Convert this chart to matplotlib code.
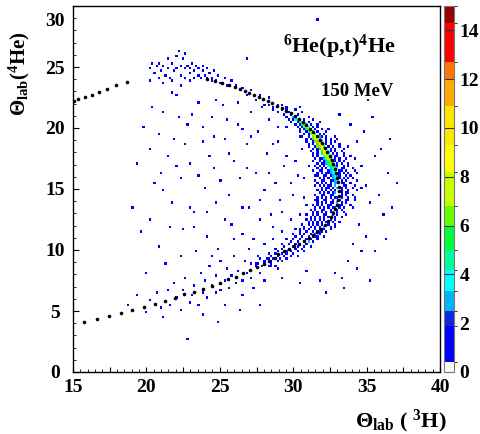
import numpy as np
import matplotlib
matplotlib.use("Agg")
import matplotlib.pyplot as plt
from matplotlib.colors import ListedColormap, BoundaryNorm
from matplotlib.ticker import MultipleLocator, FuncFormatter
from matplotlib.transforms import ScaledTranslation

plt.rcParams['font.family'] = 'Liberation Serif'
plt.rcParams['font.weight'] = 'bold'
plt.rcParams['mathtext.fontset'] = 'custom'
plt.rcParams['mathtext.rm'] = 'Liberation Serif:bold'
plt.rcParams['mathtext.bf'] = 'Liberation Serif:bold'
plt.rcParams['mathtext.it'] = 'Liberation Serif:bold'

# Kinematic locus (theta_t, theta_alpha), lab frame
curve_x = [15.05, 15.35, 15.82, 16.27, 16.77, 17.30, 17.93, 18.68,
           24.10, 24.65, 25.17, 25.60, 26.04, 26.38, 26.72, 27.01, 27.35, 27.65,
           27.96, 28.26, 28.58, 28.90, 29.22, 29.52, 29.82, 30.10, 30.38, 30.65,
           30.90, 31.15, 31.38, 31.60, 31.80, 31.99, 32.17, 32.33, 32.48, 32.61,
           32.73, 32.84, 32.93, 33.01, 33.07, 33.11, 33.12, 33.10, 33.05, 32.97,
           32.86, 32.72, 32.55, 32.36, 32.14, 31.90, 31.64, 31.36, 31.06, 30.75,
           30.42, 30.08, 29.72, 29.35, 28.97, 28.78, 28.37, 27.99, 27.55, 27.06,
           26.60, 26.10, 25.58, 25.03, 24.47, 23.84, 23.26, 22.58, 21.95, 21.27,
           20.59, 19.84, 19.04, 18.27, 17.47, 16.66, 15.77]
curve_y = [22.20, 22.35, 22.54, 22.70, 22.93, 23.22, 23.52, 23.80,
           24.00, 23.88, 23.72, 23.52, 23.34, 23.17, 23.00, 22.84, 22.68, 22.53,
           22.38, 22.22, 22.04, 21.84, 21.64, 21.43, 21.21, 20.98, 20.74, 20.48,
           20.22, 19.95, 19.66, 19.36, 19.05, 18.73, 18.40, 18.06, 17.72, 17.37,
           17.02, 16.66, 16.30, 15.93, 15.56, 15.19, 14.82, 14.45, 14.08, 13.72,
           13.36, 13.01, 12.67, 12.35, 12.04, 11.75, 11.47, 11.20, 10.95, 10.72,
           10.50, 10.29, 10.09, 9.90, 9.70, 9.37, 9.07, 8.85, 8.58, 8.34,
           8.09, 7.81, 7.60, 7.32, 7.07, 6.83, 6.58, 6.39, 6.09, 5.84,
           5.60, 5.33, 5.08, 4.86, 4.59, 4.37, 4.12]

# High-count cells along the (p,t) ridge: position and counts
ridge_x = [29.95, 30.1, 30.2, 30.35, 30.4, 30.55, 30.6, 30.75, 30.85,
           30.75, 30.9, 31.0, 30.9, 31.05, 31.2, 31.05, 31.2, 31.35,
           31.2, 31.35, 31.45, 31.3, 31.45, 31.6, 31.75, 31.4, 31.55, 31.7, 31.85,
           31.5, 31.65, 31.8, 31.95, 31.6, 31.75, 31.9, 32.05, 31.7, 31.85, 32.0, 32.15,
           31.8, 31.95, 32.1, 32.25, 31.9, 32.05, 32.2, 32.35, 31.95, 32.1, 32.25, 32.4,
           32.05, 32.2, 32.35, 32.5, 32.1, 32.25, 32.4, 32.55, 32.2, 32.35, 32.5, 32.65,
           32.3, 32.45, 32.6, 32.75, 32.4, 32.55, 32.7, 32.85, 32.5, 32.65, 32.8, 32.95,
           32.55, 32.7, 32.85, 32.6, 32.75, 32.9, 33.05, 32.7, 32.85, 33.0,
           32.75, 32.9, 33.05, 32.8, 32.95, 32.85, 33.0, 32.9, 32.95, 32.9,
           33.0, 32.95, 32.85, 32.7, 32.55, 32.35, 32.1, 31.8, 31.45, 31.0]
ridge_y = [20.9, 20.9, 20.7, 20.7, 20.5, 20.5, 20.3, 20.3, 20.3,
           20.1, 20.1, 20.1, 19.9, 19.9, 19.9, 19.7, 19.7, 19.7,
           19.5, 19.5, 19.5, 19.3, 19.3, 19.3, 19.3, 19.1, 19.1, 19.1, 19.1,
           18.9, 18.9, 18.9, 18.9, 18.7, 18.7, 18.7, 18.7, 18.5, 18.5, 18.5, 18.5,
           18.3, 18.3, 18.3, 18.3, 18.1, 18.1, 18.1, 18.1, 17.9, 17.9, 17.9, 17.9,
           17.7, 17.7, 17.7, 17.7, 17.5, 17.5, 17.5, 17.5, 17.3, 17.3, 17.3, 17.3,
           17.1, 17.1, 17.1, 17.1, 16.9, 16.9, 16.9, 16.9, 16.7, 16.7, 16.7, 16.7,
           16.5, 16.5, 16.5, 16.3, 16.3, 16.3, 16.3, 16.1, 16.1, 16.1,
           15.9, 15.9, 15.9, 15.7, 15.7, 15.5, 15.5, 15.3, 15.1, 14.7,
           14.3, 13.9, 13.5, 13.1, 12.7, 12.3, 11.9, 11.5, 11.1, 10.7]
ridge_n = [3, 4, 4, 5, 4, 6, 5, 6, 3,
           4, 7, 4, 5, 7, 4, 5, 8, 5,
           6, 9, 5, 6, 9, 6, 3, 5, 10, 7, 3,
           6, 11, 8, 4, 5, 10, 9, 4, 6, 11, 9, 5,
           5, 10, 9, 4, 5, 9, 8, 4, 4, 8, 8, 4,
           4, 7, 7, 3, 3, 6, 7, 3, 3, 6, 6, 3,
           3, 5, 6, 3, 3, 5, 5, 3, 3, 4, 5, 3,
           3, 4, 4, 3, 4, 4, 3, 3, 4, 3,
           3, 4, 3, 3, 4, 3, 3, 3, 3, 3,
           2, 3, 2, 2, 3, 2, 2, 2, 2, 2]

# Single events around the ridge (two interleaved sets of rows)
halo_x = [28.3, 28.9, 29.3,
          28.7, 29.2, 29.6, 30.1,
          29.4, 29.9, 30.3,
          29.7, 30.0, 30.7, 31.3,
          30.2, 30.5, 31.2, 31.6,
          30.5, 30.8, 31.5, 31.9, 32.4,
          30.7, 31.0, 31.8, 32.1,
          30.9, 31.2, 32.2, 32.5, 33.0,
          31.1, 31.4, 32.3, 32.6, 33.2,
          31.3, 31.6, 32.55, 32.8, 33.4,
          31.4, 31.7, 31.9, 32.7, 33.0, 33.5,
          31.5, 31.8, 32.0, 32.85, 33.1, 33.6, 34.2,
          31.6, 31.9, 32.15, 32.95, 33.3, 33.7,
          31.7, 32.0, 32.3, 33.0, 33.25, 33.5, 34.0,
          31.6, 31.9, 32.2, 32.4, 33.15, 33.4, 33.8, 34.4,
          31.8, 32.1, 32.35, 33.2, 33.45, 33.7, 34.1,
          31.7, 32.0, 32.3, 32.55, 33.25, 33.5, 33.9,
          31.9, 32.2, 32.45, 32.7, 33.3, 33.6, 34.0, 34.6,
          31.8, 32.1, 32.4, 32.65, 33.3, 33.55, 33.8,
          31.7, 32.0, 32.3, 32.6, 32.85, 33.35, 33.7, 34.2,
          31.6, 31.9, 32.2, 32.5, 32.75, 33.3, 33.6,
          31.5, 31.8, 32.1, 32.4, 32.65, 33.2, 33.5, 34.0,
          31.3, 31.7, 32.0, 32.3, 32.5, 33.0, 33.4,
          31.2, 31.5, 31.85, 32.15, 32.4, 32.85, 33.3,
          31.0, 31.4, 31.7, 32.0, 32.3, 32.7, 33.1,
          30.8, 31.2, 31.5, 31.8, 32.1, 32.5, 32.9,
          30.5, 30.9, 31.3, 31.6, 31.9, 32.3,
          30.2, 30.6, 31.0, 31.3, 31.7, 32.1,
          29.8, 30.3, 30.7, 31.0, 31.4,
          29.4, 30.0, 30.3, 30.7, 31.2,
          29.0, 29.6, 29.9, 30.3, 30.8,
          28.5, 29.0, 29.4, 29.8, 30.3,
          28.0, 28.5, 28.9, 29.3,
          27.4, 27.9, 28.3, 28.8]
halo_y = [21.9] * 3 + [21.5] * 4 + [21.1] * 3 + [20.7] * 4 + [20.3] * 4 + \
         [19.9] * 5 + [19.5] * 4 + [19.1] * 5 + [18.7] * 5 + [18.3] * 5 + \
         [17.9] * 6 + [17.5] * 7 + [17.1] * 6 + [16.7] * 7 + [16.3] * 8 + \
         [15.9] * 7 + [15.5] * 7 + [15.1] * 8 + [14.7] * 7 + [14.3] * 8 + \
         [13.9] * 7 + [13.5] * 8 + [13.1] * 7 + [12.7] * 7 + [12.3] * 7 + \
         [11.9] * 7 + [11.5] * 6 + [11.1] * 6 + [10.7] * 5 + [10.3] * 5 + \
         [9.9] * 5 + [9.5] * 5 + [9.1] * 4 + [8.7] * 4

halo2_x = [28.6, 29.5, 30.4,
           29.0, 29.7, 30.6,
           29.5, 30.2, 31.0,
           29.9, 30.3, 31.0, 31.8,
           30.3, 30.6, 31.4, 31.7,
           30.4, 30.9, 31.7, 32.2,
           30.6, 31.1, 32.0, 32.3, 32.8,
           30.9, 31.3, 32.2, 32.5, 32.9,
           31.0, 31.5, 32.4, 32.7, 33.1, 33.7,
           31.2, 31.6, 32.6, 32.9, 33.3,
           31.3, 31.6, 32.8, 33.0, 33.4, 33.9,
           31.4, 31.8, 32.1, 32.9, 33.2, 33.5,
           31.45, 31.85, 32.05, 32.4, 33.05, 33.45, 33.75,
           31.35, 31.75, 31.95, 32.35, 33.15, 33.3, 33.65, 34.15,
           31.55, 31.65, 32.05, 32.2, 32.55, 33.15, 33.55, 33.85,
           31.55, 31.95, 32.15, 32.5, 32.65, 33.35, 33.55, 34.35,
           31.45, 31.85, 32.05, 32.4, 32.55, 33.45, 33.65, 34.15,
           31.65, 31.9, 32.3, 32.5, 32.85, 33.35, 33.75, 34.35,
           31.45, 31.9, 32.1, 32.5, 32.7, 33.35, 33.55, 34.0,
           31.45, 31.7, 32.1, 32.3, 32.7, 33.2, 33.55, 33.8,
           31.3, 31.7, 31.95, 32.35, 32.55, 33.15, 33.35, 33.85,
           31.25, 31.45, 31.9, 32.15, 32.5, 33.0, 33.35,
           30.95, 31.4, 31.6, 32.05, 32.25, 32.7, 33.05, 33.55,
           30.85, 31.2, 31.55, 31.85, 32.15, 32.55, 32.9,
           30.6, 31.0, 31.35, 31.65, 31.95, 32.35, 32.8,
           30.4, 30.75, 31.1, 31.45, 31.75, 32.1, 32.6,
           30.0, 30.4, 30.8, 31.15, 31.5, 31.85,
           29.6, 30.0, 30.5, 30.85, 31.2, 31.7,
           29.2, 29.7, 30.15, 30.5, 30.9,
           28.8, 29.3, 29.7, 30.1, 30.6,
           28.3, 28.8, 29.2, 29.6, 30.0,
           27.8, 28.3, 28.7, 29.1, 29.6,
           27.2, 27.6, 28.1, 28.5]
halo2_y = [21.7] * 3 + [21.3] * 3 + [20.9] * 3 + [20.5] * 4 + [20.1] * 4 + \
          [19.7] * 4 + [19.3] * 5 + [18.9] * 5 + [18.5] * 6 + [18.1] * 5 + \
          [17.7] * 6 + [17.3] * 6 + [16.9] * 7 + [16.5] * 8 + [16.1] * 8 + \
          [15.7] * 8 + [15.3] * 8 + [14.9] * 8 + [14.5] * 8 + [14.1] * 8 + \
          [13.7] * 8 + [13.3] * 7 + [12.9] * 8 + [12.5] * 7 + [12.1] * 7 + \
          [11.7] * 7 + [11.3] * 6 + [10.9] * 6 + [10.5] * 5 + [10.1] * 5 + \
          [9.7] * 5 + [9.3] * 5 + [8.9] * 4

# Upper branch events (small alpha energy)
upper_x = [20.2, 20.4, 20.5, 20.7, 20.8, 20.9, 21.0, 21.2, 21.3, 21.4, 21.5, 21.6,
           21.7, 21.9, 22.0, 22.1, 22.2, 22.3, 22.4, 22.5, 22.6, 22.7, 22.8, 22.9,
           23.0, 23.1, 23.2, 23.3, 23.4, 23.5, 23.6, 23.7, 23.8, 23.9, 24.0, 24.1,
           24.2, 24.3, 24.4, 24.5, 24.6, 24.8, 24.9, 25.1, 25.3, 25.5, 20.3, 21.1,
           21.8, 22.4, 23.0, 25.8, 26.1, 26.6, 27.2, 27.8, 28.4, 26.9, 27.5, 28.1]
upper_y = [24.9, 25.3, 24.5, 25.0, 24.2, 25.4, 24.7, 25.1, 24.4, 25.6, 24.9, 24.1,
           25.3, 24.6, 25.9, 24.9, 26.3, 25.2, 24.4, 25.6, 24.8, 26.0, 25.1, 24.5,
           24.9, 25.4, 24.2, 24.7, 25.1, 24.4, 24.9, 24.1, 24.6, 25.2, 24.3, 24.8,
           24.0, 24.5, 23.8, 24.2, 24.6, 23.9, 24.3, 23.7, 24.1, 23.5, 23.9, 23.6,
           23.9, 23.5, 23.8, 23.9, 23.5, 23.3, 23.1, 22.7, 22.5, 22.7, 22.3, 21.9]

# Lower branch events
lower_x = [20.3, 20.7, 21.0, 21.4, 21.6, 21.9, 22.1, 22.3, 22.5, 22.7, 22.9, 23.1,
           23.3, 23.5, 23.7, 23.8, 24.0, 24.2, 24.3, 24.5, 24.7, 24.8, 25.0, 25.1,
           25.3, 25.5, 25.6, 25.8, 26.0, 26.1, 26.3, 26.5, 26.7, 26.9, 27.0, 27.2,
           27.4, 27.6, 27.8, 28.0, 28.2, 28.5, 28.7, 29.0, 29.3, 22.85, 23.8, 25.4,
           26.6, 27.3, 28.1, 29.2, 19.4, 18.8, 19.9, 21.2]
lower_y = [5.9, 6.4, 5.2, 6.8, 5.6, 7.3, 6.0, 5.1, 6.7, 7.8, 5.8, 6.3,
           7.1, 5.5, 8.2, 6.6, 7.4, 6.1, 8.7, 7.0, 6.4, 7.9, 9.2, 6.8,
           7.6, 8.4, 6.9, 7.9, 9.6, 7.3, 8.3, 7.6, 9.0, 8.0, 10.1, 7.7,
           8.9, 9.5, 8.2, 10.4, 9.3, 8.6, 10.8, 8.5, 9.0, 2.7, 4.8, 5.6,
           6.2, 6.9, 7.5, 7.8, 6.2, 5.6, 4.9, 4.6]

# Sparse background
bkg_x = [19.8, 20.3, 20.6, 20.2, 20.8, 21.1, 21.5, 21.7, 21.3, 21.9, 22.3, 22.5,
         22.1, 22.8, 23.0, 23.2, 23.4, 23.6, 23.8, 24.0, 24.2, 24.4, 24.6, 24.8,
         24.9, 25.2, 25.4, 25.6, 25.8, 25.9, 26.2, 26.4, 26.6, 26.8, 27.0, 27.1,
         27.4, 27.6, 27.8, 28.0, 28.2, 28.4, 28.6, 28.8, 29.0, 29.2, 29.4, 29.6,
         29.8, 30.0, 30.2, 30.4, 30.5, 30.7, 30.9, 22.7, 26.8, 31.7,
         34.3, 34.6, 34.9, 35.2, 34.5, 35.5, 35.8, 36.2, 34.1, 35.0, 35.6, 36.5,
         33.9, 34.8, 33.7, 34.4, 35.3, 33.2, 36.0, 34.2, 36.8, 35.1, 32.9, 33.5,
         31.8, 30.9,
         19.3, 19.6, 20.0, 20.4, 20.9, 21.2, 21.6, 21.8, 22.0, 22.4, 22.6, 22.9,
         23.1, 23.3, 23.5, 23.9, 24.1, 24.3, 24.5, 24.7, 25.0, 25.3, 25.5, 25.7,
         26.0, 26.3, 26.5, 26.9, 27.2, 27.3, 27.7, 27.9, 28.3, 28.5, 28.9, 29.1,
         29.3, 29.5, 29.9, 30.1, 30.3, 30.6, 30.8, 31.0, 21.0, 22.2, 24.6, 26.6,
         28.7, 19.0, 36.3, 37.1, 35.4, 33.6, 36.6, 34.7, 33.3, 32.2, 30.4, 24.9,
         26.4, 27.7]
bkg_y = [20.1, 18.2, 15.4, 12.6, 10.3, 21.4, 17.6, 13.8, 8.9, 19.2, 15.9, 11.7,
         22.6, 20.4, 17.1, 13.2, 9.8, 22.0, 18.8, 15.0, 11.0, 20.9, 16.6, 13.9,
         10.2, 21.8, 19.0, 14.5, 12.1, 17.4, 20.3, 15.8, 11.3, 18.6, 13.4, 21.3,
         16.2, 19.7, 12.6, 14.9, 17.8, 20.6, 11.8, 15.6, 18.9, 13.1, 16.8, 20.0,
         12.4, 14.6, 17.3, 19.4, 12.9, 15.8, 13.7, 24.0, 25.6, 28.9,
         18.8, 16.9, 15.3, 13.8, 12.2, 17.6, 14.6, 12.9, 10.6, 11.1, 9.8, 16.2,
         20.3, 19.6, 9.2, 8.4, 7.6, 21.0, 18.4, 14.1, 13.4, 22.4, 8.1, 6.9,
         7.4, 8.3,
         17.0, 11.4, 8.0, 21.6, 19.5, 14.8, 11.9, 22.9, 16.9, 9.5, 18.6, 13.6,
         21.2, 11.8, 16.1, 20.1, 13.1, 17.7, 9.4, 22.3, 15.7, 12.6, 20.6, 17.9,
         10.9, 22.1, 13.5, 16.6, 19.3, 10.9, 14.1, 21.6, 16.3, 12.9, 20.0, 14.2,
         11.4, 17.6, 15.6, 11.7, 16.0, 18.3, 14.3, 16.8, 16.4, 20.8, 19.3, 19.9,
         18.6, 13.6, 10.8, 15.5, 20.9, 22.8, 19.0, 9.9, 7.8, 6.6, 7.3, 4.1,
         5.0, 5.6]

# Colour levels of the palette
level_bounds = [0, 0.4, 1.9, 2.5, 3.3, 4.2, 5.0, 6.0, 6.8, 8.2, 9.3, 10.9, 12.0, 12.7, 14.3, 15]
level_colors = ['#ffffff', '#0000ff', '#0a28e6', '#00b4ff', '#00ffff', '#00ff9a', '#00ff3c',
                '#66ff00', '#c8ff00', '#ffff00', '#ffe800', '#ffaa00', '#ff7700', '#ff0000',
                '#990000']

fig = plt.figure(figsize=(4.81, 4.34), dpi=100)
ax = fig.add_axes([73 / 481, 1 - 372 / 434, 367 / 481, 366 / 434])

singles_x = halo_x + halo2_x + upper_x + lower_x + bkg_x
singles_y = halo_y + halo2_y + upper_y + lower_y + bkg_y
xs = singles_x + ridge_x
ys = singles_y + ridge_y
ws = [1] * len(singles_x) + ridge_n

xedges = np.arange(14.925, 40.2, 0.15)
yedges = np.arange(0.0, 30.01, 0.2)
H, _, _ = np.histogram2d(xs, ys, bins=[xedges, yedges], weights=ws)
H = np.ma.masked_equal(H, 0)

cmap = ListedColormap(level_colors)
norm = BoundaryNorm(level_bounds, cmap.N)
mesh = ax.pcolormesh(xedges, yedges, H.T, cmap=cmap, norm=norm)

ax.plot(curve_x, curve_y, 'o', color='black', markersize=2.6, markeredgewidth=0, zorder=5)

ax.set_xlim(15, 40)
ax.set_ylim(0, 30)
ax.xaxis.set_major_locator(MultipleLocator(2.5))
ax.xaxis.set_minor_locator(MultipleLocator(0.5))
ax.xaxis.set_major_formatter(FuncFormatter(lambda v, p: f"{v:.0f}" if v % 5 == 0 else ""))
ax.yaxis.set_major_locator(MultipleLocator(5))
ax.yaxis.set_minor_locator(MultipleLocator(1))
ax.tick_params(which='both', direction='in', top=False, right=False, labelsize=14)
ax.tick_params(axis='x', which='major', length=3.6, pad=5)
ax.tick_params(axis='x', which='minor', length=2.0)
ax.tick_params(axis='y', which='major', length=4.3, pad=13)
ax.tick_params(axis='y', which='minor', length=2.3)
for sp in ax.spines.values():
    sp.set_linewidth(1.0)

# palette axis
cax = fig.add_axes([444 / 481, 1 - 372 / 434, 10 / 481, 366 / 434])
cb = fig.colorbar(mesh, cax=cax, spacing='proportional', ticks=range(0, 15, 2))
cb.ax.tick_params(direction='in', length=7, width=0.8, color='#333333', labelsize=14, pad=4)
cb.outline.set_linewidth(0.8)
cb.outline.set_edgecolor('#777777')

fig.text(339 / 481, 1 - 47 / 434, r'$^{6}$He(p,t)$^{4}$He', ha='center', va='center', fontsize=16)
fig.text(357 / 481, 1 - 92 / 434, '150 MeV', ha='center', va='center', fontsize=13.5)
fig.text(447 / 481, 1 - 421 / 434, r'$\Theta_{\rm lab}$ ( $^{3}$H)', ha='right', va='center', fontsize=16)
fig.text(19 / 481, 1 - 74 / 434, r'$\Theta_{\rm lab}$($^{4}$He)', ha='center', va='center',
         rotation=90, fontsize=15)

# y labels are centred under each other; the top one sits below the frame corner
fig.canvas.draw()
for lab in ax.get_yticklabels():
    lab.set_horizontalalignment('center')
    if lab.get_text() == '30':
        lab.set_transform(lab.get_transform() + ScaledTranslation(0, -13 / 100, fig.dpi_scale_trans))

fig.savefig('out.png', dpi=100)
